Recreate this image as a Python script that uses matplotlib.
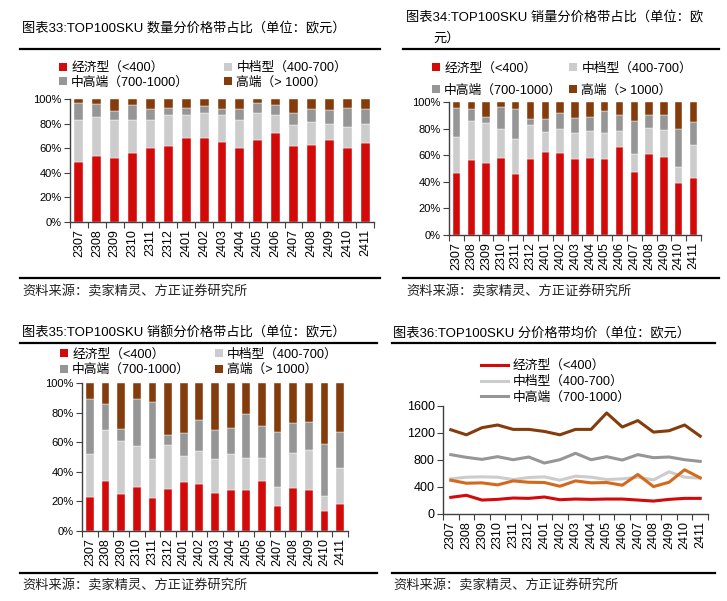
import numpy as np
import matplotlib
matplotlib.use('Agg')
import matplotlib.pyplot as plt
from matplotlib.ticker import PercentFormatter
from matplotlib.patches import Patch
from matplotlib.lines import Line2D

plt.rcParams['font.family'] = ['Liberation Sans', 'Noto Sans CJK SC']

months = ['2307', '2308', '2309', '2310', '2311', '2312', '2401', '2402', '2403',
          '2404', '2405', '2406', '2407', '2408', '2409', '2410', '2411']
band_labels = ['经济型（<400）', '中档型（400-700）', '中高端（700-1000）', '高端（> 1000）']

# fig 33: share of SKU count by price band (%)
qty_low = [49, 54, 52, 56, 60, 62, 68, 68, 65, 60, 67, 72, 62, 63, 67, 60, 64]
qty_mid = [34, 31, 31, 27, 23, 25, 19, 21, 22, 23, 22, 15, 17, 18, 13, 17, 16]
qty_midhigh = [14, 11, 7, 12, 9, 6, 6, 5, 5, 9, 8, 8, 10, 11, 11, 16, 12]
qty_high = [3, 4, 10, 5, 8, 7, 7, 6, 8, 8, 3, 5, 11, 8, 9, 7, 8]

# fig 34: share of sales volume (%)
vol_low = [46.5, 56.5, 54, 58, 45.5, 57.5, 62.5, 61.5, 57, 58, 57, 66, 47, 61, 59, 39, 43]
vol_mid = [27.5, 29, 30, 22, 26.5, 25, 15, 18.5, 19.5, 20.5, 20, 12.5, 14, 19.5, 20, 12.5, 24.5]
vol_midhigh = [21.5, 9, 5, 16, 23, 4.5, 10, 11.5, 11.5, 10.5, 16, 11.5, 25, 10, 11, 28, 17.5]
vol_high = [4.5, 5.5, 11, 4, 5, 13, 12.5, 8.5, 12, 11, 7, 10, 14, 9.5, 10, 20.5, 15]

# fig 35: share of sales amount (%)
amt_low = [23, 34, 25, 30, 22, 28.5, 33, 32, 26, 27.5, 27.5, 34, 17, 29, 27.5, 13.5, 18]
amt_mid = [29, 34.5, 36, 27.5, 26.5, 29.5, 18, 22, 22.5, 24.5, 22, 15.5, 12.5, 24, 27.5, 10, 24.5]
amt_midhigh = [37, 17.5, 8, 31.5, 38.5, 7, 15.5, 21, 20, 17.5, 29.5, 21.5, 37.5, 20, 18.5, 35, 24.5]
amt_high = [11, 14, 31, 11, 13, 35, 33.5, 25, 31.5, 30.5, 21, 29, 33, 27, 26.5, 41.5, 33]

# fig 36: average price by band (EUR)
price_low = [246, 276, 206, 216, 236, 231, 251, 211, 221, 216, 221, 221, 206, 191, 216, 231, 231]
price_mid = [519, 544, 549, 544, 509, 539, 549, 499, 559, 544, 509, 519, 544, 504, 623, 544, 529]
price_midhigh = [877, 837, 807, 847, 802, 842, 753, 802, 897, 802, 847, 797, 877, 832, 842, 802, 777]
price_high = [1245, 1170, 1275, 1315, 1250, 1250, 1220, 1170, 1250, 1250, 1493, 1285, 1380, 1210, 1230, 1315, 1150]
price_all = [499, 455, 460, 430, 489, 469, 465, 410, 489, 460, 465, 425, 584, 405, 469, 653, 534]

colors = ['#d20a0a', '#cccccc', '#969696', '#843c0c']
orange = '#d4691c'

W, H = 727, 601
fig = plt.figure(figsize=(W / 100, H / 100), dpi=100)
LEG_FS = 9.2


def fx(x):
    return x / W


def fy(y):
    return 1 - y / H


def add_ax(l, t, r, b):
    return fig.add_axes([fx(l), fy(b), (r - l) / W, (b - t) / H])


def hline(x0, x1, y, lw=1.6):
    fig.add_artist(Line2D([fx(x0), fx(x1)], [fy(y), fy(y)], color='black', lw=lw))


def frame(title_lines, x, line_x0, line_x1, top_y, bot_y, src_y):
    for tx, ty, s in title_lines:
        fig.text(fx(tx), fy(ty), s, fontsize=9.5, va='center', ha='left')
    hline(line_x0, line_x1, top_y)
    hline(line_x0, line_x1, bot_y)
    fig.text(fx(x), fy(src_y), '资料来源：卖家精灵、方正证券研究所', fontsize=9.5,
             va='center', ha='left', color='#222222')


def style_axes(ax, n, xlab_size=9, ylab_size=8):
    ax.set_xlim(-0.5, n - 0.5)
    for s in ['top', 'right']:
        ax.spines[s].set_visible(False)
    for s in ['left', 'bottom']:
        ax.spines[s].set_color('#404040')
        ax.spines[s].set_linewidth(1)
    ax.set_xticks(np.arange(-0.5, n, 1))
    ax.set_xticklabels([])
    ax.set_xticks(np.arange(n), minor=True)
    ax.set_xticklabels(months, minor=True, rotation=90, fontsize=xlab_size)
    ax.tick_params(axis='x', which='major', direction='out', length=4, color='#404040')
    ax.tick_params(axis='x', which='minor', length=0, pad=5)
    ax.tick_params(axis='y', direction='out', length=4, color='#404040', labelsize=ylab_size, pad=2)


def stacked(ax, series):
    x = np.arange(len(months))
    bottom = np.zeros(len(months))
    for vals, c in zip(series, colors):
        ax.bar(x, vals, bottom=bottom, width=0.5, color=c, edgecolor='white', linewidth=0.3)
        bottom += np.array(vals)
    ax.set_ylim(0, 100)
    ax.set_yticks(range(0, 101, 20))
    ax.yaxis.set_major_formatter(PercentFormatter(decimals=0))
    style_axes(ax, len(months))


def bar_legend(ax, left, top, colspace, rowspace):
    handles = [Patch(facecolor=c, edgecolor='none') for c in colors]
    order = [0, 2, 1, 3]
    ax.legend([handles[i] for i in order], [band_labels[i] for i in order], ncol=2,
              loc='upper left', bbox_to_anchor=(fx(left), fy(top)), bbox_transform=fig.transFigure,
              frameon=False, fontsize=LEG_FS, handlelength=0.6, handleheight=0.6, handletextpad=0.35,
              columnspacing=colspace, labelspacing=rowspace, borderpad=0, borderaxespad=0)


# ---- fig 33
frame([(22, 28, '图表33:TOP100SKU 数量分价格带占比（单位：欧元）')], 22, 20, 380, 49, 278, 291)
ax1 = add_ax(70, 99, 374, 222)
stacked(ax1, [qty_low, qty_mid, qty_midhigh, qty_high])
bar_legend(ax1, 59, 62, 2.75, 0.15)

# ---- fig 34
frame([(406, 17, '图表34:TOP100SKU 销量分价格带占比（单位：欧'), (433, 38, '元）')],
      406, 403, 719, 49, 278, 291)
ax2 = add_ax(449, 102, 701, 235)
stacked(ax2, [vol_low, vol_mid, vol_midhigh, vol_high])
bar_legend(ax2, 432, 62.5, 0.55, 0.75)

# ---- fig 35
frame([(22, 333, '图表35:TOP100SKU 销额分价格带占比（单位：欧元）')], 22, 20, 377, 343, 573, 585)
ax3 = add_ax(82, 383, 348, 531)
stacked(ax3, [amt_low, amt_mid, amt_midhigh, amt_high])
bar_legend(ax3, 60, 348.5, 1.95, 0.25)

# ---- fig 36
frame([(393, 333, '图表36:TOP100SKU 分价格带均价（单位：欧元）')], 393, 392, 715, 343, 573, 585)
ax4 = add_ax(443, 405.7, 708, 514)
x = np.arange(len(months))
l1, = ax4.plot(x, price_low, color=colors[0], lw=2.2)
l2, = ax4.plot(x, price_mid, color=colors[1], lw=2.2)
l3, = ax4.plot(x, price_midhigh, color=colors[2], lw=2.2)
ax4.plot(x, price_high, color=colors[3], lw=2.2)
ax4.plot(x, price_all, color=orange, lw=2.2)
ax4.set_ylim(0, 1600)
ax4.set_yticks(range(0, 1601, 400))
style_axes(ax4, len(months), ylab_size=9)
ax4.legend([l1, l2, l3], band_labels[:3], loc='upper left', bbox_to_anchor=(fx(481), fy(360)),
           bbox_transform=fig.transFigure, frameon=False, fontsize=LEG_FS, handlelength=2.1,
           handletextpad=0.4, labelspacing=0.28, borderpad=0, borderaxespad=0)

fig.savefig('out.png', dpi=100)
